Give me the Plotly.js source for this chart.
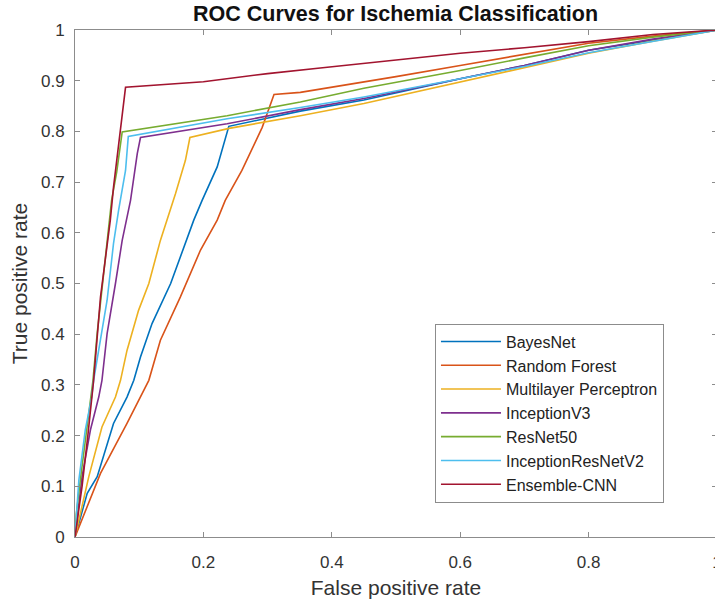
<!DOCTYPE html>
<html>
<head>
<meta charset="utf-8">
<script src="https://cdn.plot.ly/plotly-3.0.1.min.js"></script>
<style>
html,body{margin:0;padding:0;overflow:hidden;background:#fff;}
#chart{width:717px;height:603px;}
</style>
</head>
<body>
<div id="chart"></div>
<script>
const seriesNames = ["BayesNet","Random Forest","Multilayer Perceptron","InceptionV3","ResNet50","InceptionResNetV2","Ensemble-CNN"];
const seriesColors = ["#0072BD","#D95319","#EDB120","#7E2F8E","#77AC30","#4DBEEE","#A2142F"];

const bayesFpr = [0,0.019,0.0346,0.060,0.081,0.0916,0.102,0.120,0.149,0.172,0.185,0.198,0.2215,0.2396,0.30,0.351,0.45,0.6,0.7,0.8,0.9,1];
const bayesTpr = [0,0.086,0.119,0.224,0.276,0.309,0.355,0.421,0.500,0.579,0.625,0.664,0.730,0.810,0.826,0.840,0.862,0.904,0.930,0.960,0.980,1];

const rfFpr = [0,0.0397,0.081,0.102,0.115,0.133,0.164,0.1955,0.2215,0.234,0.260,0.2916,0.310,0.351,0.4,0.5,0.6,0.7,0.8,0.9,1];
const rfTpr = [0,0.1255,0.224,0.276,0.309,0.388,0.473,0.566,0.625,0.664,0.723,0.808,0.873,0.877,0.887,0.908,0.930,0.952,0.974,0.988,1];

const mlpFpr = [0,0.0086,0.0215,0.042,0.063,0.0709,0.081,0.099,0.115,0.133,0.1436,0.1565,0.172,0.179,0.24,0.351,0.45,0.6,0.7,0.8,0.9,1];
const mlpTpr = [0,0.047,0.119,0.217,0.276,0.309,0.368,0.447,0.500,0.585,0.625,0.677,0.743,0.788,0.806,0.831,0.855,0.897,0.925,0.954,0.978,1];

const incV3Fpr = [0,0.011,0.024,0.037,0.042,0.050,0.063,0.0735,0.0865,0.097,0.102,0.237,0.351,0.45,0.6,0.7,0.8,0.9,1];
const incV3Tpr = [0,0.119,0.211,0.276,0.309,0.401,0.500,0.585,0.664,0.756,0.788,0.815,0.843,0.865,0.904,0.930,0.960,0.982,1];

const res50Fpr = [0,0.002,0.010,0.018,0.025,0.028,0.0346,0.045,0.057,0.065,0.0735,0.237,0.351,0.45,0.6,0.7,0.8,0.9,1];
const res50Tpr = [0,0.045,0.130,0.210,0.276,0.309,0.402,0.520,0.664,0.720,0.799,0.831,0.858,0.885,0.920,0.945,0.969,0.986,1];

const incResFpr = [0,0.006,0.016,0.026,0.029,0.037,0.050,0.060,0.068,0.0787,0.083,0.237,0.351,0.45,0.6,0.7,0.8,0.9,1];
const incResTpr = [0,0.112,0.211,0.276,0.309,0.368,0.467,0.579,0.645,0.723,0.790,0.825,0.847,0.868,0.904,0.928,0.955,0.978,1];

const ensFpr = [0,0.011,0.020,0.029,0.0397,0.055,0.060,0.0787,0.2,0.3,0.382,0.5,0.6,0.7,0.8,0.9,1];
const ensTpr = [0,0.100,0.200,0.309,0.473,0.625,0.690,0.887,0.898,0.914,0.925,0.940,0.954,0.965,0.977,0.991,1];

const xTickVals = [0,0.2,0.4,0.6,0.8,1];
const xTickText = ["0","0.2","0.4","0.6","0.8","1"];
const yTickVals = [0,0.1,0.2,0.3,0.4,0.5,0.6,0.7,0.8,0.9,1];
const yTickText = ["0","0.1","0.2","0.3","0.4","0.5","0.6","0.7","0.8","0.9","1"];

const xs = [bayesFpr, rfFpr, mlpFpr, incV3Fpr, res50Fpr, incResFpr, ensFpr];
const ys = [bayesTpr, rfTpr, mlpTpr, incV3Tpr, res50Tpr, incResTpr, ensTpr];

const traces = seriesNames.map((n,i)=>({
  type:'scatter', mode:'lines', name:n, x:xs[i], y:ys[i],
  line:{color:seriesColors[i], width:1.6}
}));

const FONT = 'Arial, Liberation Sans, sans-serif';
const axisCommon = {
  showgrid:false, zeroline:false, showline:true, linecolor:'#8c8c8c', linewidth:1,
  mirror:'allticks', ticks:'inside', ticklen:5, tickcolor:'#8c8c8c', tickwidth:1,
  tickfont:{family:FONT, size:17, color:'#333'}, ticklabeloverflow:'allow',
  automargin:false, fixedrange:true
};

const layout = {
  width:717, height:603,
  margin:{l:75, r:0, t:30, b:66},
  paper_bgcolor:'#fff', plot_bgcolor:'#fff',
  title:{text:'<b>ROC Curves for Ischemia Classification</b>', x:0.5517, xanchor:'center', y:0.978, yref:'container', yanchor:'middle',
    font:{family:FONT, size:21.5, color:'#111'}},
  xaxis:Object.assign({}, axisCommon, {range:[0,1], tickvals:xTickVals, ticktext:xTickText, ticklabelstandoff:10,
    title:{text:'False positive rate', standoff:8, font:{family:FONT, size:21, color:'#333'}}}),
  yaxis:Object.assign({}, axisCommon, {range:[0,1], tickvals:yTickVals, ticktext:yTickText, ticklabelstandoff:6,
    title:{text:'True positive rate', standoff:7, font:{family:FONT, size:21, color:'#333'}}}),
  showlegend:true,
  legend:{x:0.5607, y:0.421, xanchor:'left', yanchor:'top', bgcolor:'#fff', bordercolor:'#8c8c8c', borderwidth:1,
    font:{family:FONT, size:16, color:'#222'}, itemwidth:60, tracegroupgap:0}
};

Plotly.newPlot('chart', traces, layout, {displayModeBar:false, staticPlot:true});
</script>
</body>
</html>
